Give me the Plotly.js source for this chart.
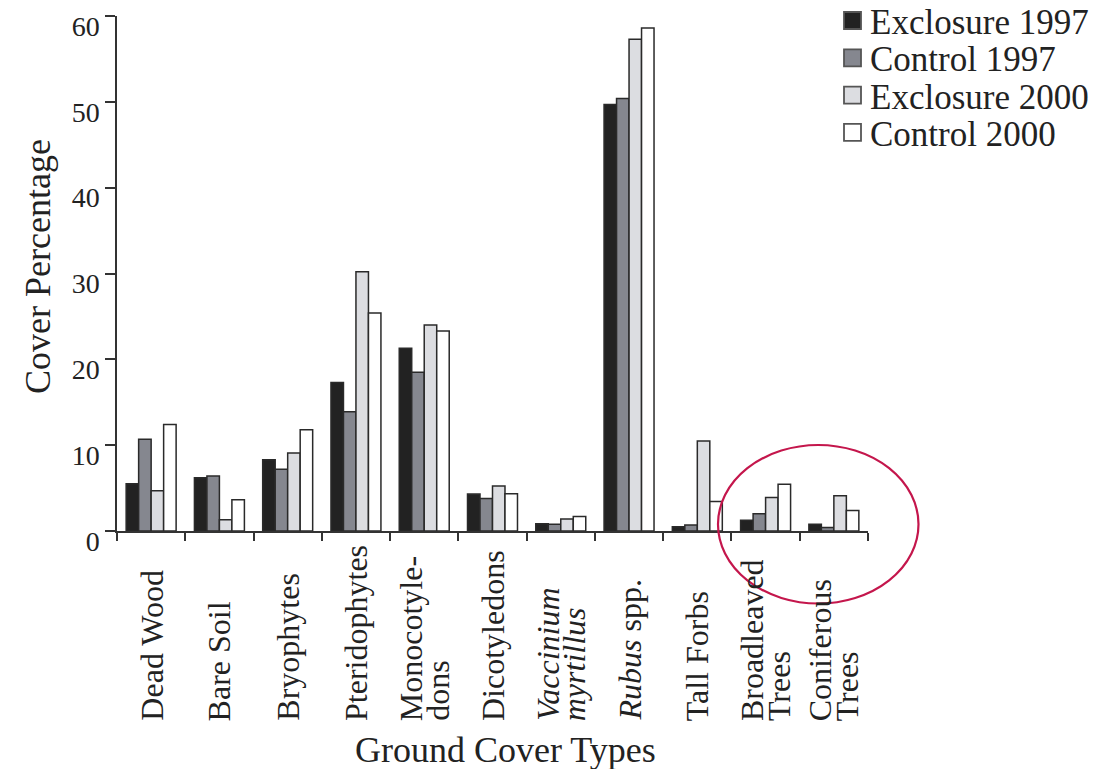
<!DOCTYPE html>
<html>
<head>
<meta charset="utf-8">
<script src="https://cdn.plot.ly/plotly-3.0.1.min.js"></script>
<style>html,body{margin:0;padding:0;background:#fff;}#chart{width:1101px;height:769px;}</style>
</head>
<body>
<div id="chart"></div>
<script>
const categories = ['Dead Wood','Bare Soil','Bryophytes','Pteridophytes','Monocotyledons','Dicotyledons','Vaccinium myrtillus','Rubus spp.','Tall Forbs','Broadleaved Trees','Coniferous Trees'];
const tickLabels = ['Dead Wood','Bare Soil','Bryophytes','Pteridophytes','Monocotyle-<br>dons','Dicotyledons','<i>Vaccinium</i><br><i>myrtillus</i>','<i>Rubus</i> spp.','Tall Forbs','Broadleaved<br>Trees','Coniferous<br>Trees'];
const seriesNames = ['Exclosure 1997','Control 1997','Exclosure 2000','Control 2000'];
const exclosure1997 = [5.5, 6.2, 8.3, 17.3, 21.3, 4.3, 0.85, 49.7, 0.5, 1.25, 0.8];
const control1997   = [10.7, 6.4, 7.2, 13.9, 18.5, 3.8, 0.8, 50.4, 0.7, 2.0, 0.4];
const exclosure2000 = [4.7, 1.3, 9.1, 30.2, 24.0, 5.25, 1.4, 57.3, 10.5, 3.9, 4.1];
const control2000   = [12.4, 3.65, 11.8, 25.4, 23.3, 4.35, 1.7, 58.6, 3.45, 5.45, 2.4];
const yTicks = [0, 10, 20, 30, 40, 50, 60];
const xTitle = 'Ground Cover Types';
const yTitle = 'Cover Percentage';

const colors = ['#222222', '#85878f', '#dcdde1', '#ffffff'];
const FONT = 'Liberation Serif, Times New Roman, serif';
const series = [exclosure1997, control1997, exclosure2000, control2000];

// plot area geometry (pixels)
const W = 1101, H = 769, ML = 117, MR = 233, MT = 16, MB = 238;
const PW = W - ML - MR, PH = H - MT - MB;
const px = v => (v - ML) / PW;          // pixel x -> paper
const py = v => (H - MB - v) / PH;      // pixel y -> paper

const traces = series.map((vals, i) => ({
  type: 'bar',
  name: seriesNames[i],
  x: categories,
  y: vals,
  marker: {color: colors[i], line: {color: '#2a2a2a', width: 1.5}},
  hoverinfo: 'x+y+name',
  showlegend: false
}));

const annotations = [];
const shapes = [];
categories.forEach((c, i) => {
  const lines = tickLabels[i].split('<br>');
  lines.forEach((ln, j) => {
    annotations.push({
      x: c, xref: 'x', y: py(723), yref: 'paper',
      text: ln, textangle: -90, showarrow: false,
      xanchor: 'center', yanchor: 'bottom',
      xshift: (j - (lines.length - 1) / 2) * 27,
      font: {family: FONT, size: 32, color: '#222'}
    });
  });
});
annotations.push({
  x: px(505), xref: 'paper', y: py(750), yref: 'paper',
  text: xTitle, showarrow: false, xanchor: 'center', yanchor: 'middle',
  font: {family: FONT, size: 36, color: '#222'}
});
annotations.push({
  x: px(38), xref: 'paper', y: py(267), yref: 'paper',
  text: yTitle, showarrow: false, textangle: -90, xanchor: 'center', yanchor: 'middle',
  font: {family: FONT, size: 36, color: '#222'}
});

// legend (manual, to match the reference spacing)
seriesNames.forEach((nm, i) => {
  const cy = 20.5 + i * 37.3;
  shapes.push({
    type: 'rect', xref: 'paper', yref: 'paper',
    x0: px(844), x1: px(861), y0: py(cy + 8.5), y1: py(cy - 8.5),
    fillcolor: colors[i], line: {color: '#555', width: 1.8}
  });
  annotations.push({
    x: px(868), xref: 'paper', y: py(cy + 2), yref: 'paper',
    text: nm, showarrow: false, xanchor: 'left', yanchor: 'middle',
    font: {family: FONT, size: 35, color: '#222'}
  });
});

shapes.push({
  type: 'circle', xref: 'paper', yref: 'paper',
  x0: px(718), x1: px(918.5), y0: py(603.5), y1: py(445),
  line: {color: '#c4164c', width: 2.2}, fillcolor: 'rgba(0,0,0,0)'
});

const layout = {
  width: W, height: H,
  margin: {l: ML, r: MR, t: MT, b: MB, autoexpand: false},
  paper_bgcolor: '#fff', plot_bgcolor: '#fff',
  barmode: 'group', bargap: 0.268, bargroupgap: 0,
  showlegend: false,
  xaxis: {
    type: 'category', range: [-0.5, 10.5],
    showticklabels: false, tickson: 'boundaries', ticks: 'outside', ticklen: 8,
    tickwidth: 1.5, tickcolor: '#333', showline: true, linecolor: '#333', linewidth: 1.5,
    showgrid: false, zeroline: false
  },
  yaxis: {
    range: [0, 60], tickvals: yTicks, ticktext: yTicks.map(String),
    ticks: 'outside', ticklen: 10, tickwidth: 1.5, tickcolor: '#333',
    showline: true, linecolor: '#333', linewidth: 1.5,
    showgrid: false, zeroline: false,
    tickfont: {family: FONT, size: 28, color: '#222'},
    ticklabelshift: 10, ticklabelstandoff: 0
  },
  annotations: annotations,
  shapes: shapes
};

Plotly.newPlot('chart', traces, layout, {displayModeBar: false});
</script>
</body>
</html>
